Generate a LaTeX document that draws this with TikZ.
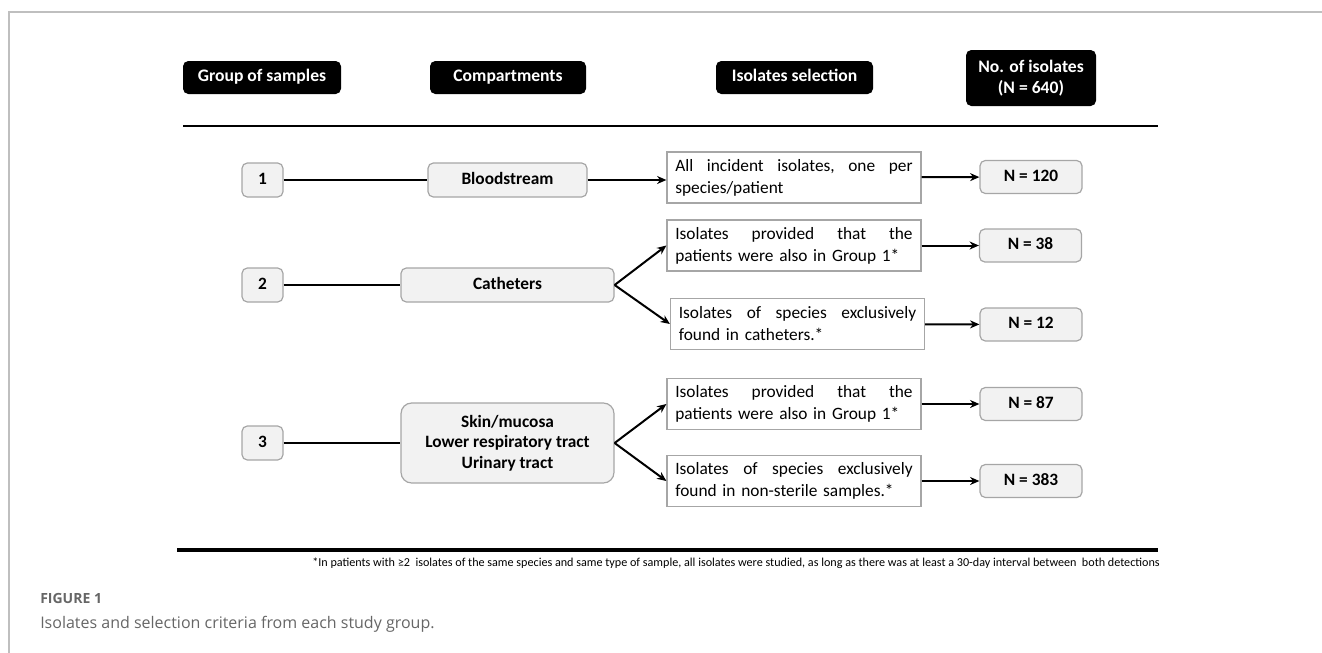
\documentclass[tikz,border=0pt]{standalone}
\usepackage{fontspec}
\setmainfont{Carlito}
\newfontfamily\capfont{Open Sans}
\usetikzlibrary{arrows.meta}
\definecolor{boxfill}{HTML}{F2F2F2}
\definecolor{boxline}{HTML}{A6A6A6}
\definecolor{capgray}{HTML}{666666}
\definecolor{framegray}{HTML}{BFBFBF}
% first line of a selection box, stretched to the full width
\newcommand{\spreadline}[1]{\hbox to 178pt{#1}}

\begin{document}
\begin{tikzpicture}[x=0.75pt,y=-0.75pt,
	hdr/.style={fill=black, rounded corners=4pt, text=white, inner sep=0pt,
		font=\bfseries\fontsize{13.2}{15.5}\selectfont, minimum height=24.75pt, align=center},
	grp/.style={draw=boxline, fill=boxfill, rounded corners=4pt, line width=0.9pt, inner sep=0pt,
		font=\bfseries\fontsize{13}{15.5}\selectfont, minimum height=25.5pt, align=center},
	oneline/.style={text height=1.6ex, text depth=.3ex},
	sel/.style={draw=boxline, fill=white, line width=0.9pt, inner sep=0pt, align=left,
		font=\fontsize{13}{16.5}\selectfont, text width=178pt, minimum width=190.5pt, minimum height=38.25pt},
	cnt/.style={grp, oneline, minimum width=76.5pt, minimum height=24.75pt},
	link/.style={line width=1.5pt},
	arr/.style={line width=1.5pt, -{Stealth[length=7pt,width=6pt]}}]
	\useasboundingbox (0,0) rectangle (1322,653);
	
	% frame of the figure
	\draw[framegray, line width=0.8pt] (9,653) -- (9,12) -- (1322,12);
	
	% header
	\node[hdr, oneline, minimum width=118.5pt] (hgroup) at (262,77.5) {Group of samples};
	\node[hdr, oneline, minimum width=117pt] (hcomp) at (508,77.5) {Compartments};
	\node[hdr, oneline, minimum width=117.75pt] (hsel) at (794.5,77.5) {Isolates selection};
	\node[hdr, minimum width=97.5pt, minimum height=42pt] (hnum) at (1031,78) {No. of isolates\\(N = 640)};
	\draw[line width=2.2pt] (183,126) -- (1158,126);
	
	% group 1
	\node[grp, oneline, minimum width=30.75pt] (g1) at (262.5,180) {1};
	\node[grp, oneline, minimum width=119.25pt] (c1) at (507.5,180) {Bloodstream};
	\node[sel] (s1) at (794,177.5) {\spreadline{All\hfill incident\hfill isolates,\hfill one\hfill per}\\species/patient};
	\node[cnt] (n1) at (1031,177) {N = 120};
	\draw[link] (g1) -- (c1);
	\draw[arr] (c1.east) -- (c1.east -| s1.west);
	\draw[arr] (s1) -- (n1);
	
	% group 2
	\node[grp, oneline, minimum width=30.75pt] (g2) at (262.5,285) {2};
	\node[grp, oneline, minimum width=159.75pt] (c2) at (507.5,285) {Catheters};
	\node[sel] (s2a) at (794,245.5) {\spreadline{Isolates\hfill provided\hfill that\hfill the}\\patients were also in Group 1*};
	\node[cnt] (n2a) at (1030.5,245.5) {N = 38};
	\node[sel] (s2b) at (797.5,324) {\spreadline{Isolates\hfill of\hfill species\hfill exclusively}\\found in catheters.*};
	\node[cnt] (n2b) at (1031,324.5) {N = 12};
	\draw[link] (g2) -- (c2);
	\draw[arr] (c2.east) -- (s2a.west);
	\draw[arr] (c2.east) -- (s2b.west);
	\draw[arr] (s2a) -- (n2a);
	\draw[arr] (s2b) -- (n2b);
	
	% group 3
	\node[grp, oneline, minimum width=30.75pt] (g3) at (262.5,443) {3};
	\node[grp, minimum width=159.75pt, minimum height=60pt, rounded corners=8pt] (c3) at (507.5,443)
		{Skin/mucosa\\Lower respiratory tract\\Urinary tract};
	\node[sel] (s3a) at (794,404) {\spreadline{Isolates\hfill provided\hfill that\hfill the}\\patients were also in Group 1*};
	\node[cnt] (n3a) at (1031,404) {N = 87};
	\node[sel] (s3b) at (794,481) {\spreadline{Isolates\hfill of\hfill species\hfill exclusively}\\found in non-sterile samples.*};
	\node[cnt] (n3b) at (1031,481) {N = 383};
	\draw[link] (g3) -- (c3);
	\draw[arr] (c3.east) -- (s3a.west);
	\draw[arr] (c3.east) -- (s3b.west);
	\draw[arr] (s3a) -- (n3a);
	\draw[arr] (s3b) -- (n3b);
	
	% footnote
	\draw[line width=2.4pt] (177,550) -- (1158,550);
	\node[anchor=east, inner sep=0pt, font=\fontsize{9.1}{11}\selectfont] (note) at (1160,563)
		{*In patients with ≥2\ \ isolates of the same species and same type of sample, all isolates were studied, as long as there was at least a 30-day interval between\ \ both detections};
	
	% caption
	\node[anchor=base west, inner sep=0pt, text=capgray, font=\capfont\bfseries\fontsize{10.5}{12}\selectfont] (figlab) at (40,603) {FIGURE 1};
	\node[anchor=base west, inner sep=0pt, text=capgray, font=\capfont\fontsize{12}{14}\selectfont] (caption) at (40,628) {Isolates and selection criteria from each study group.};
\end{tikzpicture}
\end{document}
